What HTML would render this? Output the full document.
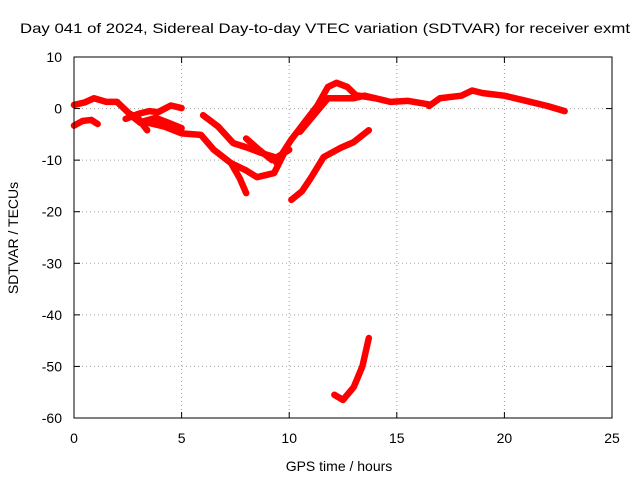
<!DOCTYPE html>
<html><head><meta charset="utf-8"><style>
body{margin:0;background:#fff;width:640px;height:480px;overflow:hidden}
text{font-family:"Liberation Sans",sans-serif;font-size:14px;fill:#000}
</style></head><body>
<svg id="chart" width="640" height="480" xmlns="http://www.w3.org/2000/svg">
<rect width="640" height="480" fill="#fff"/>
<text x="20" y="33" textLength="610" lengthAdjust="spacingAndGlyphs" font-size="15">Day 041 of 2024, Sidereal Day-to-day VTEC variation (SDTVAR) for receiver exmt</text>
<g id="grid"></g><g id="axes"></g><g id="series"></g>
<rect x="74" y="57" width="538" height="361" fill="none" stroke="#000" stroke-width="1"/>
<text x="339" y="471" text-anchor="middle">GPS time / hours</text>
<text transform="translate(18,238) rotate(-90)" text-anchor="middle">SDTVAR / TECUs</text>
</svg>
<script>
const xTicks=[0,5,10,15,20,25];
const yTicks=[10,0,-10,-20,-30,-40,-50,-60];
const arc1=[[0,-3.3],[0.4,-2.4],[0.8,-2.2],[1.1,-3]];
const arc2=[[0,0.7],[0.5,1.2],[0.93,2],[1.5,1.3],[2,1.3],[2.3,0.1],[2.7,-1.5],[3.1,-2.8]];
const arc3=[[2.4,-2],[3,-1],[3.5,-0.5],[3.9,-0.7],[4.5,0.6],[5,0.1]];
const arc4=[[2.6,-1],[3,-2],[3.4,-4.2]];
const arc5=[[3.5,-2.8],[4.2,-3.5],[5,-4.8],[5.9,-5.1],[6.5,-8],[7.3,-10.6],[7.7,-13.5],[8,-16.4]];
const arc6=[[7.3,-10.6],[8,-12],[8.5,-13.3],[9.3,-12.5],[9.9,-7.5]];
const arc7=[[6,-1.3],[6.7,-3.5],[7.4,-6.7],[8,-7.5],[8.7,-8.6],[9.4,-9.5],[10,-8]];
const arc8=[[8,-5.8],[8.6,-8],[9.2,-10]];
const arc9=[[9.4,-10.5],[10.1,-6],[10.8,-2.2],[11.3,0.5],[11.8,4.2],[12.2,5],[12.7,4.2],[13.1,2.6],[14,2],[14.7,1.3],[15.5,1.5],[16.5,0.8]];
const arc10=[[10.5,-4.5],[11.2,-1],[11.8,2],[12.5,2],[13,2],[13.5,2.5],[14,2]];
const arc11=[[10.1,-17.7],[10.6,-16],[11,-13.5],[11.6,-9.4],[12.4,-7.6],[13,-6.5],[13.7,-4.2]];
const arc12=[[12.1,-55.5],[12.5,-56.5],[13,-54],[13.4,-50],[13.7,-44.5]];
const arc13=[[16.5,0.5],[17,2],[18,2.5],[18.5,3.5],[19,3],[20,2.5],[21,1.5],[22,0.5],[22.8,-0.5]];
const arc14=[[3.2,-2.5],[3.8,-1.8],[4.3,-2.6],[5,-3.8]];
const allArcs=[arc1,arc2,arc3,arc4,arc5,arc6,arc7,arc8,arc9,arc10,arc11,arc12,arc13,arc14];
const X0=74,X1=612,Y0=57,Y1=418;
const sx=v=>X0+(v-0)/(25-0)*(X1-X0);
const sy=v=>Y0+(10-v)/(10-(-60))*(Y1-Y0);
const NS="http://www.w3.org/2000/svg";
const grid=document.getElementById('grid'),axes=document.getElementById('axes'),ser=document.getElementById('series');
function mk(t,a,p){const e=document.createElementNS(NS,t);for(const k in a)e.setAttribute(k,a[k]);p.appendChild(e);return e;}
xTicks.forEach(t=>{const x=sx(t);
 if(t>0&&t<25){const g=mk('line',{x1:x,x2:x,y1:Y0,y2:Y1,stroke:'#a0a0a0','stroke-dasharray':'1,3'},grid);
 
 }
 mk('line',{x1:x,x2:x,y1:Y1,y2:Y1-6,stroke:'#000'},axes);
 mk('line',{x1:x,x2:x,y1:Y0,y2:Y0+6,stroke:'#000'},axes);
 const l=mk('text',{x:x,y:443,'text-anchor':'middle'},axes);l.textContent=t;
 
 });
yTicks.forEach(t=>{const y=sy(t);
 if(t<10&&t>-60){const g=mk('line',{x1:X0,x2:X1,y1:y,y2:y,stroke:'#a0a0a0','stroke-dasharray':'1,3'},grid);
 
 }
 mk('line',{x1:X0,x2:X0+6,y1:y,y2:y,stroke:'#000'},axes);
 mk('line',{x1:X1,x2:X1-6,y1:y,y2:y,stroke:'#000'},axes);
 const l=mk('text',{x:62,y:y+5,'text-anchor':'end'},axes);l.textContent=t;
 
 });
allArcs.forEach((a,i)=>{
 const p=mk('polyline',{points:a.map(d=>sx(d[0])+','+sy(d[1])).join(' '),fill:'none',stroke:'#f00','stroke-width':6.5,'stroke-linejoin':'round','stroke-linecap':'round'},ser);
 
 
});
</script>
</body></html>
